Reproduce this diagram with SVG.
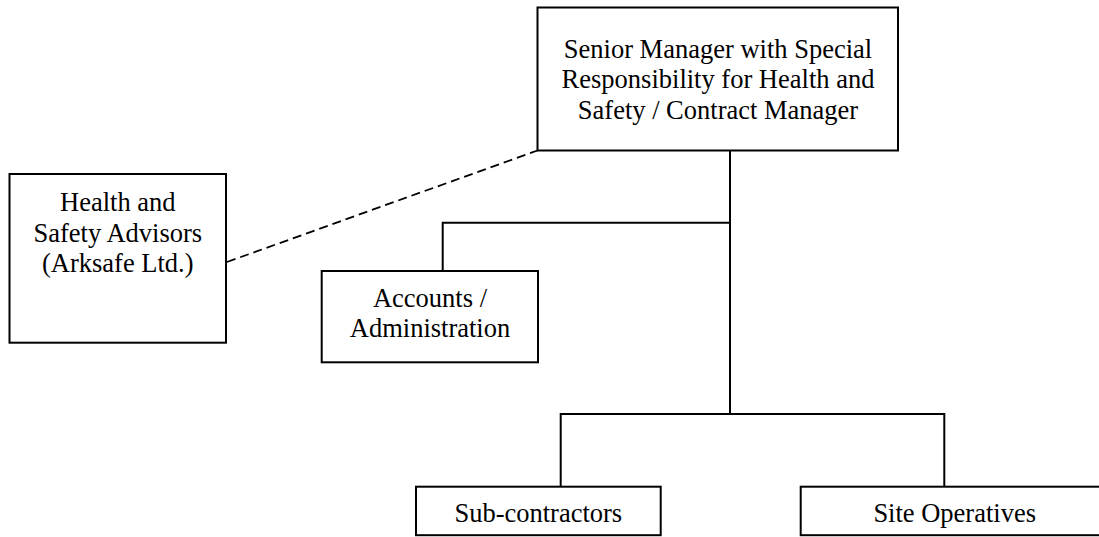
<svg xmlns="http://www.w3.org/2000/svg" width="1099" height="537" viewBox="0 0 1099 537">
<style>
.box{fill:#fff;stroke:#000;stroke-width:2}
.ln{fill:none;stroke:#000;stroke-width:2}
.dash{fill:none;stroke:#000;stroke-width:1.8;stroke-dasharray:9 5}
text{font-family:"Liberation Serif","Times New Roman",serif;font-size:26.5px;fill:#000;text-anchor:middle}
</style>
<rect width="1099" height="537" fill="#fff"/>
<g id="connectors">
<line class="dash" x1="227" y1="262" x2="537.5" y2="150.5"/>
<polyline class="ln" points="730,150.5 730,413"/>
<polyline class="ln" points="442.7,272 442.7,222.7 730,222.7"/>
<polyline class="ln" points="560.7,486.7 560.7,414 944.3,414 944.3,486.7"/>
</g>
<g id="senior-manager">
<rect class="box" x="537.5" y="7.5" width="360.5" height="143"/>
<text x="718" y="57.7">Senior Manager with Special</text>
<text x="718" y="88">Responsibility for Health and</text>
<text x="718" y="118.5">Safety / Contract Manager</text>
</g>
<g id="hs-advisors">
<rect class="box" x="9.5" y="174" width="216.5" height="168.7"/>
<text x="117.8" y="210.7">Health and</text>
<text x="117.8" y="241.5">Safety Advisors</text>
<text x="117.8" y="272">(Arksafe Ltd.)</text>
</g>
<g id="accounts">
<rect class="box" x="321.7" y="271" width="216.3" height="91.3"/>
<text x="430" y="307.3">Accounts /</text>
<text x="430" y="337.3">Administration</text>
</g>
<g id="sub-contractors">
<rect class="box" x="416" y="486.7" width="244.7" height="48.5"/>
<text x="538.3" y="521.7">Sub-contractors</text>
</g>
<g id="site-operatives">
<rect class="box" x="800.7" y="486.7" width="308" height="48.5"/>
<text x="954.7" y="521.7">Site Operatives</text>
</g>
</svg>
